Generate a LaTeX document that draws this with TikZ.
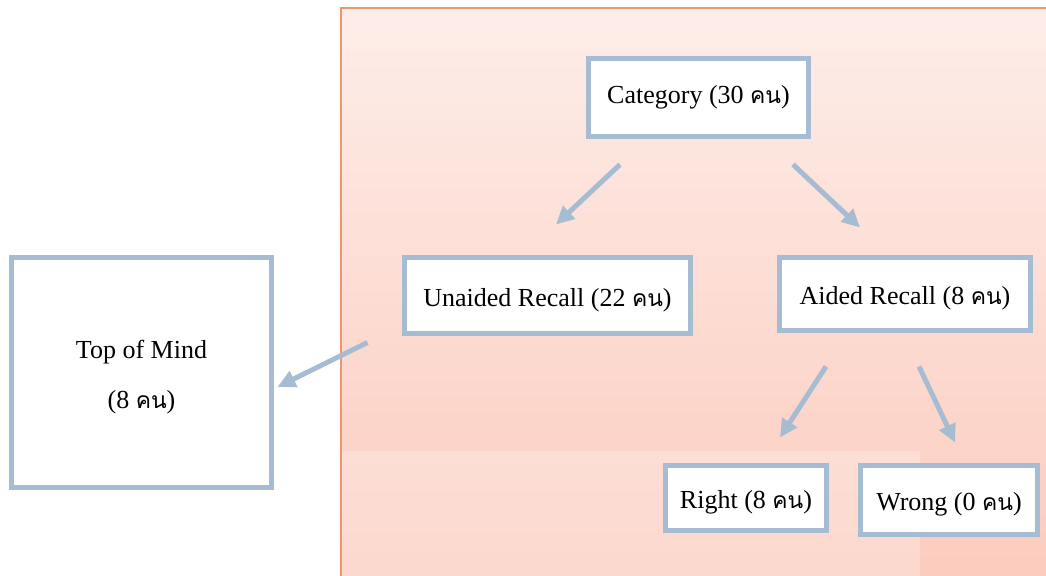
\documentclass[tikz,border=0pt]{standalone}
\usepackage{fontspec}
\setmainfont{Liberation Serif}
\newfontfamily\thaifont[Script=Thai,Scale=0.88]{Loma}
\newcommand*{\kon}{{\thaifont คน}}
\usetikzlibrary{arrows.meta}
\definecolor{boxblue}{RGB}{166,188,210}
\definecolor{frameorange}{RGB}{238,150,112}
\definecolor{pinktop}{RGB}{253,237,233}
\definecolor{pinkbottom}{RGB}{252,204,190}
\tikzset{
	box/.style={draw=boxblue, line width=2.5pt, fill=white, inner sep=0pt, align=center, font=\fontsize{13}{16}\selectfont},
	arr/.style={draw=boxblue, line width=2.5pt, -{Triangle[length=9pt,width=8.5pt]}}
}
\begin{document}
\begin{tikzpicture}[x=0.5pt,y=-0.5pt]
		\useasboundingbox (0,0) rectangle (1046,576);
		
		%Background
		\shade[top color=pinktop, bottom color=pinkbottom] (341,8) rectangle (1046,576);
		\fill[white, opacity=0.25] (342,451) rectangle (920,576);
		\draw[frameorange, line width=1pt] (341,576) -- (341,8) -- (1046,8);
		
		% the boxes
		\node[box, minimum width=110pt, minimum height=39pt] (cat) at (698.5,97.5) {Category (30 \kon)};
		\node[box, minimum width=143pt, minimum height=38pt, text height=14pt] (unaided) at (547.5,295.5) {Unaided Recall (22 \kon)};
		\node[box, minimum width=125.5pt, minimum height=36.5pt, text height=13pt] (aided) at (905,294) {Aided Recall (8 \kon)};
		\node[box, minimum width=130pt, minimum height=115pt] (top) at (141.5,372.5) {\\[-2pt]Top of Mind\\[9pt](8 \kon)};
		\node[box, minimum width=80.5pt, minimum height=32.5pt, text height=13pt] (right) at (746,498) {Right (8 \kon)};
		\node[box, minimum width=88.5pt, minimum height=34.5pt, text height=13pt] (wrong) at (949,500) {Wrong (0 \kon)};
		
		% the arrows
		\draw[arr] ([shift={(-78.5,25.5)}]cat.south) -- ([shift={(8.5,-30.5)}]unaided.north);
		\draw[arr] ([shift={(94.5,25.5)}]cat.south) -- ([shift={(-45,-27.5)}]aided.north);
		\draw[arr] ([shift={(-34.5,6.5)}]unaided.south west) -- ([shift={(3.5,14.5)}]top.east);
		\draw[arr] ([shift={(-79,33.5)}]aided.south) -- ([shift={(34,-25.5)}]right.north);
		\draw[arr] ([shift={(14,33.5)}]aided.south) -- ([shift={(6,-20.5)}]wrong.north);
		
	\end{tikzpicture}
\end{document}
